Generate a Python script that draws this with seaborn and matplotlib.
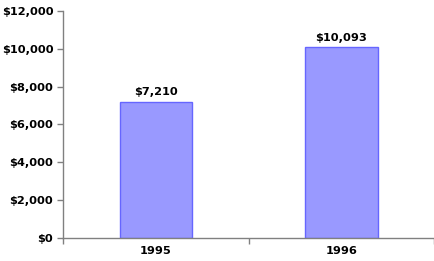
import matplotlib
matplotlib.use("Agg")
import matplotlib.pyplot as plt
import seaborn as sns
import pandas as pd
from matplotlib.ticker import FixedLocator

years = ["1995", "1996"]
values = [7210, 10093]
value_labels = ["$7,210", "$10,093"]
ytick_values = [0, 2000, 4000, 6000, 8000, 10000, 12000]
ytick_labels = ["$0", "$2,000", "$4,000", "$6,000", "$8,000", "$10,000", "$12,000"]

sns.set_style("white")
plt.rcParams['font.family'] = ['DejaVu Sans']
plt.rcParams['text.color'] = 'black'
plt.rcParams['xtick.color'] = 'black'
plt.rcParams['ytick.color'] = 'black'

df = pd.DataFrame({"year": years, "value": values})

fig = plt.figure(figsize=(4.35, 2.61), dpi=100)
ax = fig.add_axes([0.145, 0.088, 0.853, 0.870])
sns.barplot(data=df, x="year", y="value", ax=ax, color="#9999FF",
            edgecolor="#6666FF", linewidth=1.0, width=0.39, saturation=1)

ax.set_xlim(-0.5, 1.5)
ax.set_ylim(0, 12000)
ax.set_yticks(ytick_values)
ax.set_yticklabels(ytick_labels, fontsize=8.2, fontweight="bold", color="black")
ax.set_xticks(range(len(years)))
ax.set_xticklabels(years, fontsize=8.2, fontweight="bold", color="black")
ax.xaxis.set_minor_locator(FixedLocator([-0.5, 0.5, 1.5]))
ax.tick_params(axis="x", which="major", length=0, pad=6)
ax.tick_params(axis="x", which="minor", length=4, color="#808080", width=1, direction="out", bottom=True)
ax.tick_params(axis="y", length=4, color="#808080", width=1, direction="out", left=True, pad=3)
ax.set_xlabel("")
ax.set_ylabel("")

for s in ["top", "right"]:
    ax.spines[s].set_visible(False)
for s in ["left", "bottom"]:
    ax.spines[s].set_color("#808080")
    ax.spines[s].set_linewidth(1)

for i, lab in enumerate(value_labels):
    ax.annotate(lab, (i, values[i]), xytext=(0, 3), textcoords="offset points",
                ha="center", va="bottom", fontsize=8.2, fontweight="bold", color="black")

fig.savefig("out.png", dpi=100)
